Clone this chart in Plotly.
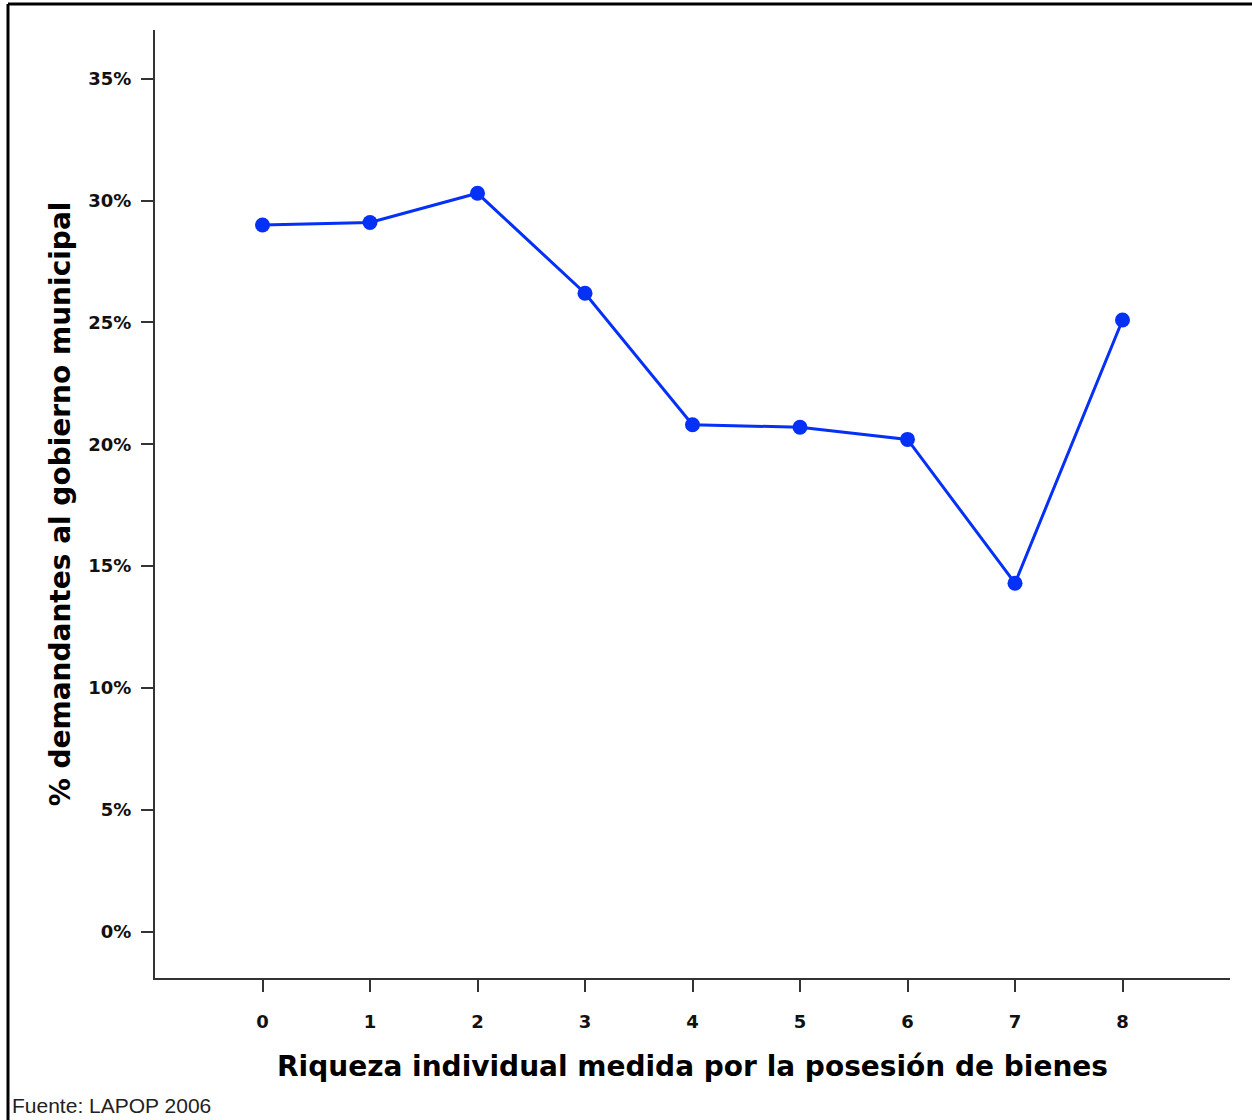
import plotly.graph_objects as go

riqueza = [0, 1, 2, 3, 4, 5, 6, 7, 8]
demandantes_pct = [29.0, 29.1, 30.3, 26.2, 20.8, 20.7, 20.2, 14.3, 25.1]
y_ticks = [0, 5, 10, 15, 20, 25, 30, 35]
y_tick_labels = ["0%", "5%", "10%", "15%", "20%", "25%", "30%", "35%"]

W, H = 1252, 1120
ml, mr, mt, mb = 155, 22, 30, 142
pw, ph = W - ml - mr, H - mt - mb

def px_x(px):
    return (px - ml) / pw

def px_y(py):
    return (H - mb - py) / ph

fig = go.Figure()
fig.add_trace(go.Scatter(
    x=riqueza, y=demandantes_pct, mode="lines+markers",
    line=dict(color="#0530f5", width=3),
    marker=dict(color="#0530f5", size=15),
    showlegend=False, cliponaxis=False,
))

bold = "DejaVu Sans"
fig.update_layout(
    width=W, height=H,
    margin=dict(l=ml, r=mr, t=mt, b=mb),
    paper_bgcolor="white", plot_bgcolor="white",
    xaxis=dict(
        range=[-1, 9], tickvals=riqueza, ticktext=[str(v) for v in riqueza],
        showgrid=False, zeroline=False, showline=True, linecolor="#333", linewidth=2,
        ticks="outside", ticklen=12, tickwidth=2, tickcolor="#333",
        ticklabelstandoff=14,
        tickfont=dict(family=bold, size=18, color="#111", weight="bold"),
        title=dict(text="Riqueza individual medida por la posesión de bienes",
                   font=dict(family=bold, size=28, color="#000", weight="bold"), standoff=26),
    ),
    yaxis=dict(
        range=[-1.9, 37], tickvals=y_ticks, ticktext=y_tick_labels,
        showgrid=False, zeroline=False, showline=True, linecolor="#333", linewidth=2,
        ticks="outside", ticklen=12, tickwidth=2, tickcolor="#333",
        ticklabelstandoff=6,
        tickfont=dict(family=bold, size=18, color="#111", weight="bold"),
        title=dict(text="% demandantes al gobierno municipal",
                   font=dict(family=bold, size=28, color="#000", weight="bold"), standoff=10),
    ),
)

# frame lines (top and left border)
fig.add_shape(type="line", xref="paper", yref="paper",
              x0=px_x(8), x1=px_x(1260), y0=px_y(4), y1=px_y(4),
              line=dict(color="black", width=3))
fig.add_shape(type="line", xref="paper", yref="paper",
              x0=px_x(8), x1=px_x(8), y0=px_y(4), y1=px_y(1125),
              line=dict(color="black", width=3))

fig.add_annotation(text="Fuente: LAPOP 2006", xref="paper", yref="paper",
                   x=px_x(10), y=px_y(1105), xanchor="left", yanchor="middle",
                   showarrow=False,
                   font=dict(family="Liberation Sans", size=21, color="#222"))

fig.write_html("out.html", config={"displayModeBar": False},
               post_script="document.body.style.margin='0';")
